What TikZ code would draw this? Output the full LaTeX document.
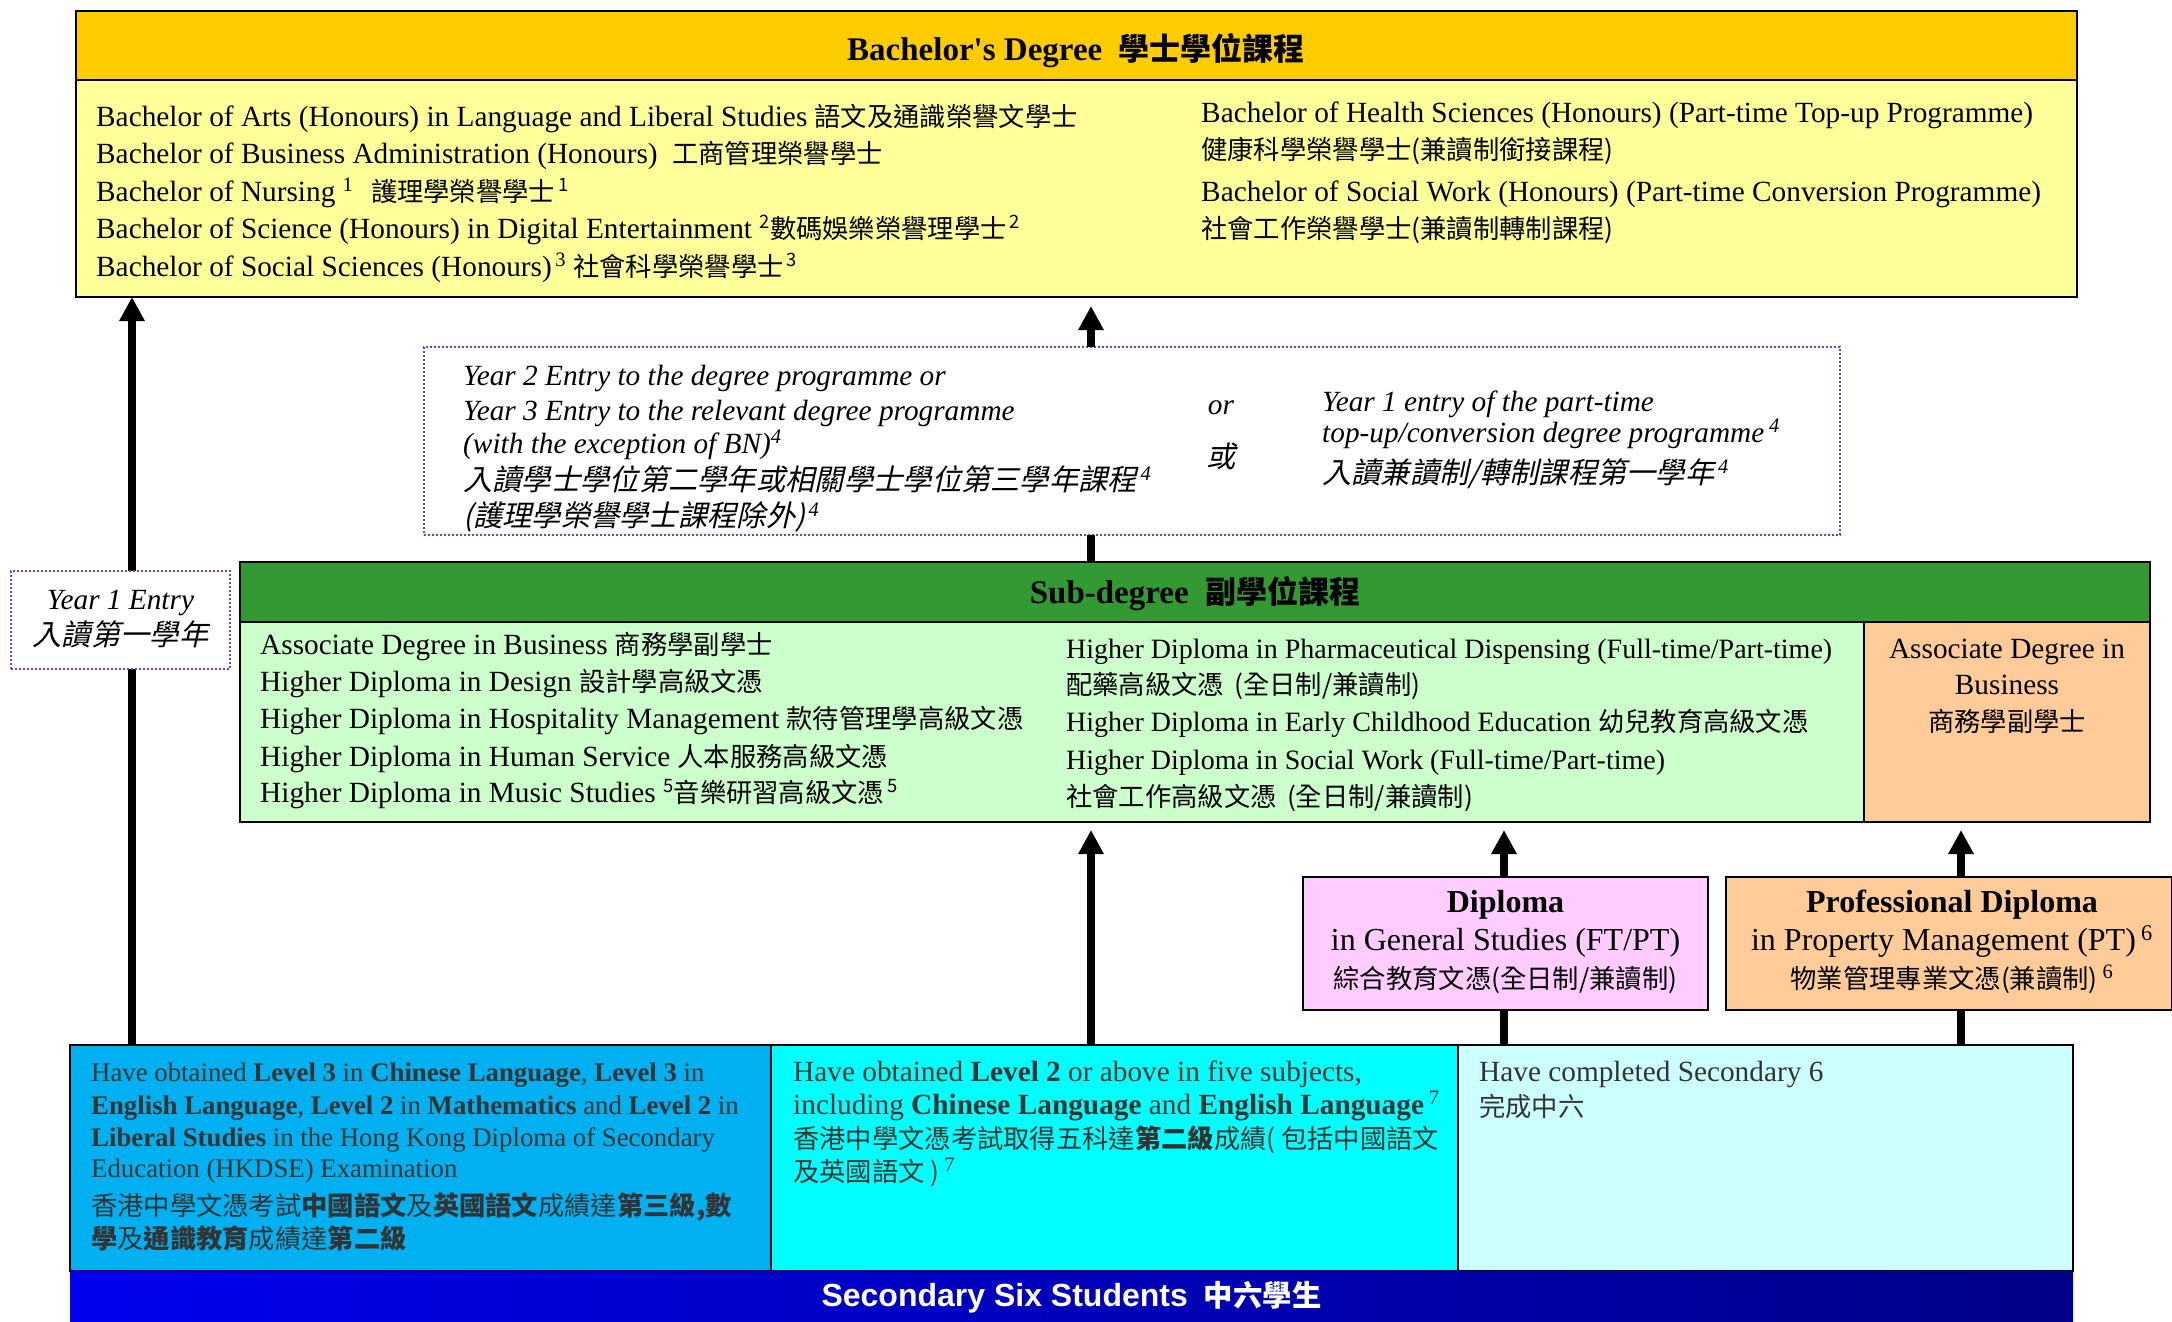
\documentclass[tikz,border=0pt]{standalone}
\usepackage{fontspec}
\setmainfont{Liberation Serif}
\newfontfamily\sansf{Liberation Sans}
\newfontfamily\cjk{Noto Sans CJK TC}
\newfontfamily\cjkit{Noto Sans CJK TC}[FakeSlant=0.22]
\usetikzlibrary{arrows.meta}
\newcommand\zh[1]{{\cjk\fontsize{26.3}{30}\selectfont #1}}
\newcommand\zb[1]{{\cjk\bfseries\fontsize{26.3}{30}\selectfont #1}}
\newcommand\zhi[1]{{\cjkit\fontsize{29.3}{33}\selectfont #1}}
\newcommand\zhh[1]{{\cjk\bfseries\fontsize{31}{34}\selectfont #1}}
\newcommand\zband[1]{{\cjk\bfseries\fontsize{29.4}{34}\selectfont #1}}
\definecolor{bachhead}{HTML}{FFCC00}
\definecolor{bachbody}{HTML}{FFFF99}
\definecolor{subhead}{HTML}{339933}
\definecolor{subbody}{HTML}{CCFFCC}
\definecolor{peach}{HTML}{FFCC99}
\definecolor{pinkbox}{HTML}{FFCCFF}
\definecolor{condA}{HTML}{00B0F0}
\definecolor{condB}{HTML}{00FFFF}
\definecolor{condC}{HTML}{CCFFFF}
\definecolor{bandL}{HTML}{0000EE}
\definecolor{bandR}{HTML}{000088}
\definecolor{dotpurple}{HTML}{7A3FC0}
\definecolor{condtext}{HTML}{333333}
\begin{document}
\begin{tikzpicture}[x=1pt,y=-1pt,
  box/.style={draw=black,line width=2.5pt,inner sep=0pt,outer sep=0pt,anchor=north west},
  dotbox/.style={draw=dotpurple,line width=2pt,dotted,fill=white,inner sep=0pt,outer sep=0pt,anchor=north west},
  txt/.style={anchor=base west,inner sep=0pt,font=\fontsize{29.3}{33}\selectfont},
  mtxt/.style={anchor=base west,inner sep=0pt,font=\fontsize{28}{32}\selectfont},
  ctxt/.style={anchor=base,inner sep=0pt,font=\fontsize{29.3}{33}\selectfont},
  itxt/.style={anchor=base west,inner sep=0pt,font=\fontsize{29.3}{33}\selectfont\itshape},
  hd/.style={anchor=base,inner sep=0pt,font=\fontsize{33}{36}\selectfont\bfseries},
  ctx/.style={anchor=base west,inner sep=0pt,text=condtext,font=\fontsize{26.8}{30}\selectfont},
  ctxb/.style={anchor=base west,inner sep=0pt,text=condtext,font=\fontsize{29.3}{33}\selectfont},
  arr/.style={line width=8pt,-{Triangle[width=24pt,length=24pt]}},
  ln/.style={line width=8pt}]
\useasboundingbox (0,0) rectangle (2172,1322);

% ---------- boxes ----------
\node[box,fill=bachbody,minimum width=2001pt,minimum height=286pt] (bach) at (76,11) {};
\node[box,fill=bachhead,minimum width=2001pt,minimum height=69pt] (bachhd) at (76,11) {};

\node[dotbox,minimum width=1416pt,minimum height=188pt] (dot) at (424,347) {};

\node[box,fill=subbody,minimum width=1910pt,minimum height=260pt] (sub) at (240,562) {};
\node[box,fill=subhead,minimum width=1910pt,minimum height=60pt] (subhd) at (240,562) {};
\node[box,fill=peach,minimum width=286pt,minimum height=200pt] (subor) at (1864,622) {};

\node[box,fill=pinkbox,minimum width=405pt,minimum height=133pt] (dip) at (1303,877) {};
\node[box,fill=peach,minimum width=446pt,minimum height=133pt] (pdip) at (1726,877) {};

\node[box,fill=condA,minimum width=701pt,minimum height=226pt] (c1) at (70,1045) {};
\node[box,fill=condB,minimum width=687pt,minimum height=226pt] (c2) at (771,1045) {};
\node[box,fill=condC,minimum width=615pt,minimum height=226pt] (c3) at (1458,1045) {};
\node[anchor=north west,inner sep=0pt,outer sep=0pt,minimum width=2003pt,minimum height=51pt,left color=bandL,right color=bandR] (band) at (70,1271) {};

% ---------- connectors ----------
\coordinate (xL) at (132,0);
\coordinate (xM) at (1091,0);
\coordinate (xD) at (1504,0);
\coordinate (xP) at (1961,0);
\draw[arr] (xL |- c1.north) -- (xL |- bach.south);
\draw[arr,shorten >=9pt] (xM |- dot.north) -- (xM |- bach.south);
\draw[ln] (xM |- sub.north) -- (xM |- dot.south);
\draw[arr,shorten >=8pt] (xM |- c2.north) -- (xM |- sub.south);
\draw[ln] (xD |- c3.north) -- (xD |- dip.south);
\draw[arr,shorten >=8pt] (xD |- dip.north) -- (xD |- sub.south);
\draw[ln] (xP |- c3.north) -- (xP |- pdip.south);
\draw[arr,shorten >=8pt] (xP |- pdip.north) -- (xP |- sub.south);

\node[dotbox,minimum width=219pt,minimum height=98pt] (y1) at (11,571) {};

% ---------- bachelor ----------
\node[hd] (bacht) at (1076,61) {Bachelor\textquotesingle s Degree\hspace{0.5em}\zhh{學士學位課程}};
\node[txt] (b1) at (96,126) {Bachelor of Arts (Honours) in Language and Liberal Studies \zh{語文及通識榮譽文學士}};
\node[txt] (b2) at (96,163) {Bachelor of Business Administration (Honours)\hspace{0.5em}\zh{工商管理榮譽學士}};
\node[txt] (b3) at (96,201) {Bachelor of Nursing \textsuperscript{1}\hspace{0.6em}\zh{護理學榮譽學士\textsuperscript{\,1}}};
\node[txt] (b4) at (96,238) {Bachelor of Science (Honours) in Digital Entertainment \zh{\textsuperscript{2}數碼娛樂榮譽理學士\textsuperscript{\,2}}};
\node[txt] (b5) at (96,276) {Bachelor of Social Sciences (Honours)\textsuperscript{\,3} \zh{社會科學榮譽學士\textsuperscript{\,3}}};
\node[txt] (b6) at (1201,122) {Bachelor of Health Sciences (Honours) (Part-time Top-up Programme)};
\node[txt] (b7) at (1201,159) {\zh{健康科學榮譽學士(兼讀制銜接課程)}};
\node[txt] (b8) at (1201,201) {Bachelor of Social Work (Honours) (Part-time Conversion Programme)};
\node[txt] (b9) at (1201,238) {\zh{社會工作榮譽學士(兼讀制轉制課程)}};

% ---------- dotted entry box ----------
\node[itxt] (d1) at (463,385) {Year 2 Entry to the degree programme or};
\node[itxt] (d2) at (463,420) {Year 3 Entry to the relevant degree programme};
\node[itxt] (d3) at (463,453) {(with the exception of BN)\textsuperscript{4}};
\node[itxt] (d4) at (463,490) {\zhi{入讀學士學位第二學年或相關學士學位第三學年課程}\textsuperscript{\,4}};
\node[itxt] (d5) at (463,526) {\zhi{(護理學榮譽學士課程除外)}\textsuperscript{\,4}};
\node[ctxt,font=\fontsize{29.3}{33}\selectfont\itshape] (dor) at (1221,414) {or};
\node[ctxt] (dhuo) at (1221,467) {\zhi{或}};
\node[itxt] (d6) at (1322,411) {Year 1 entry of the part-time};
\node[itxt] (d7) at (1322,442) {top-up/conversion degree programme\,\textsuperscript{4}};
\node[itxt] (d8) at (1322,483) {\zhi{入讀兼讀制/轉制課程第一學年}\textsuperscript{\,4}};

% ---------- year 1 box ----------
\node[ctxt,font=\fontsize{29.3}{33}\selectfont\itshape] (y1a) at (y1.center |- 0,609) {Year 1 Entry};
\node[ctxt] (y1b) at (y1.center |- 0,645) {\zhi{入讀第一學年}};

% ---------- sub-degree ----------
\node[hd] (subt) at (1195,603) {Sub-degree\hspace{0.5em}\zhh{副學位課程}};
\node[txt] (s1) at (260,654) {Associate Degree in Business \zh{商務學副學士}};
\node[txt] (s2) at (260,691) {Higher Diploma in Design \zh{設計學高級文憑}};
\node[txt] (s3) at (260,728) {Higher Diploma in Hospitality Management \zh{款待管理學高級文憑}};
\node[txt] (s4) at (260,766) {Higher Diploma in Human Service \zh{人本服務高級文憑}};
\node[txt] (s5) at (260,802) {Higher Diploma in Music Studies \zh{\textsuperscript{5}音樂研習高級文憑\textsuperscript{\,5}}};
\node[mtxt] (s6) at (1066,658) {Higher Diploma in Pharmaceutical Dispensing (Full-time/Part-time)};
\node[mtxt] (s7) at (1066,694) {\zh{配藥高級文憑\hspace{0.4em}(全日制/兼讀制)}};
\node[mtxt] (s8) at (1066,731) {Higher Diploma in Early Childhood Education \zh{幼兒教育高級文憑}};
\node[mtxt] (s9) at (1066,769) {Higher Diploma in Social Work (Full-time/Part-time)};
\node[mtxt] (s10) at (1066,806) {\zh{社會工作高級文憑\hspace{0.4em}(全日制/兼讀制)}};
\node[ctxt] (o1) at (subor.center |- 0,658) {Associate Degree in};
\node[ctxt] (o2) at (subor.center |- 0,694) {Business};
\node[ctxt] (o3) at (subor.center |- 0,731) {\zh{商務學副學士}};

% ---------- diplomas ----------
\node[ctxt,font=\fontsize{32}{36}\selectfont\bfseries] (dp1) at (dip.center |- 0,912) {Diploma};
\node[ctxt,font=\fontsize{32}{36}\selectfont] (dp2) at (dip.center |- 0,950) {in General Studies (FT/PT)};
\node[ctxt] (dp3) at (dip.center |- 0,988) {\zh{綜合教育文憑(全日制/兼讀制)}};
\node[ctxt,font=\fontsize{32}{36}\selectfont\bfseries] (pd1) at (1952,912) {Professional Diploma};
\node[ctxt,font=\fontsize{32}{36}\selectfont] (pd2) at (1952,950) {in Property Management (PT)\,\textsuperscript{6}};
\node[ctxt] (pd3) at (1952,988) {\zh{物業管理專業文憑(兼讀制)}\,\textsuperscript{6}};

% ---------- conditions ----------
\node[ctx] (k1) at (91,1081) {Have obtained \textbf{Level 3} in \textbf{Chinese Language}, \textbf{Level 3} in};
\node[ctx] (k2) at (91,1114) {\textbf{English Language}, \textbf{Level 2} in \textbf{Mathematics} and \textbf{Level 2} in};
\node[ctx] (k3) at (91,1146) {\textbf{Liberal Studies} in the Hong Kong Diploma of Secondary};
\node[ctx] (k4) at (91,1177) {Education (HKDSE) Examination};
\node[ctx] (k5) at (91,1215) {\zh{香港中學文憑考試\zb{中國語文}及\zb{英國語文}成績達\zb{第三級,數}}};
\node[ctx] (k6) at (91,1248) {\zh{\zb{學}及\zb{通識教育}成績達\zb{第二級}}};
\node[ctxb] (m1) at (793,1081) {Have obtained \textbf{Level 2} or above in five subjects,};
\node[ctxb] (m2) at (793,1114) {including \textbf{Chinese Language} and \textbf{English Language}\,\textsuperscript{7}};
\node[ctxb] (m3) at (793,1148) {\zh{香港中學文憑考試取得五科達\zb{第二級}成績( 包括中國語文}};
\node[ctxb] (m4) at (793,1181) {\zh{及英國語文 )}\,\textsuperscript{7}};
\node[ctxb] (n1) at (1479,1081) {Have completed Secondary 6};
\node[ctxb] (n2) at (1479,1116) {\zh{完成中六}};

\node[anchor=base,inner sep=0pt,text=white,font=\fontsize{32}{36}\selectfont\sansf\bfseries] (bandt) at (band.center |- 0,1306) {Secondary Six Students\hspace{0.5em}\zband{中六學生}};
\end{tikzpicture}
\end{document}
